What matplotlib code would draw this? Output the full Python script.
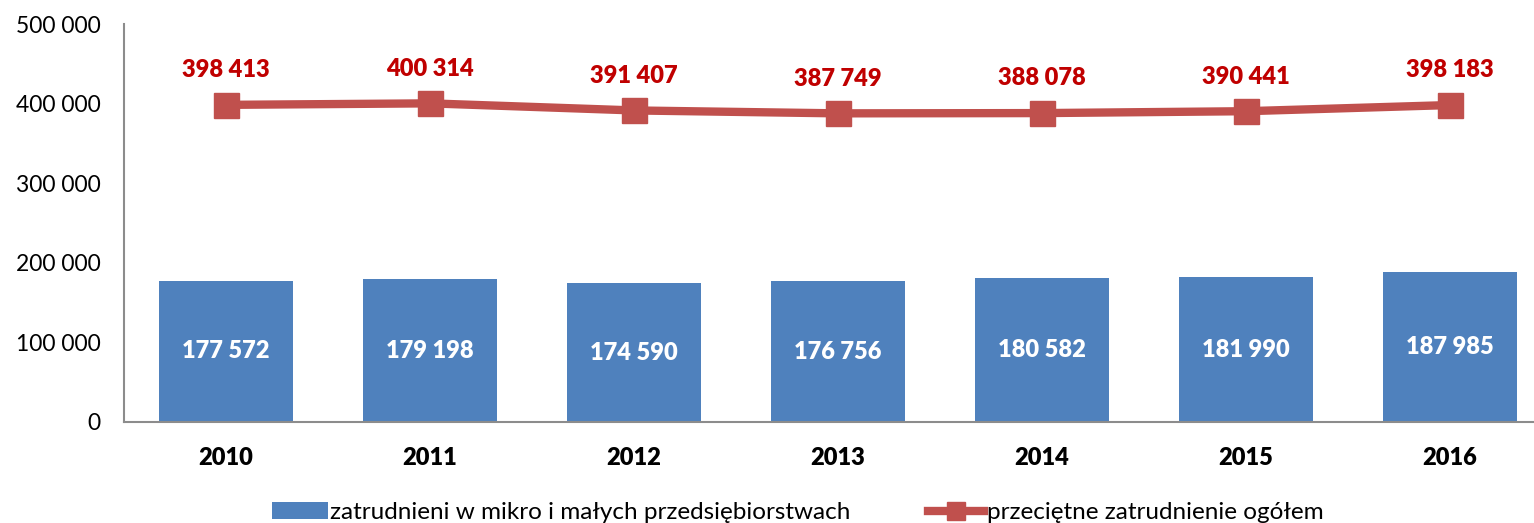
import matplotlib
matplotlib.use("Agg")
import matplotlib.pyplot as plt
from matplotlib.lines import Line2D
from matplotlib.patches import Patch

years = ["2010", "2011", "2012", "2013", "2014", "2015", "2016"]
micro_small = [177572, 179198, 174590, 176756, 180582, 181990, 187985]
total = [398413, 400314, 391407, 387749, 388078, 390441, 398183]

bar_color = "#4F81BD"
line_color = "#C0504D"
label_red = "#C00000"

plt.rcParams['font.family'] = ['Lato', 'DejaVu Sans']


def fmt(v):
    return f"{v:,}".replace(",", " ")


fig = plt.figure(figsize=(15.34, 5.23), dpi=100)
ax = fig.add_axes([124 / 1534, 101 / 523, 1428 / 1534, 398 / 523])

x = list(range(len(years)))
ax.bar(x, micro_small, width=0.66, color=bar_color, zorder=2)
for xi, v in zip(x, micro_small):
    ax.text(xi, v / 2, fmt(v), ha="center", va="center", color="white",
            fontsize=17, fontweight="heavy", zorder=3)

ax.plot(x, total, color=line_color, linewidth=6, marker="s", markersize=18,
        zorder=4)
for xi, v in zip(x, total):
    ax.annotate(fmt(v), (xi, v), xytext=(0, 17), textcoords="offset points",
                ha="center", va="bottom", color=label_red, fontsize=17,
                fontweight="heavy")

ax.set_xlim(-0.5, 6.5)
ax.set_ylim(0, 500000)
ax.set_yticks(range(0, 500001, 100000))
ax.set_yticklabels([fmt(v) for v in range(0, 500001, 100000)], fontsize=16.5)
ax.set_xticks(x)
ax.set_xticklabels(years, fontsize=17, fontweight="heavy")
ax.tick_params(axis="x", length=0, pad=18)
ax.tick_params(axis="y", length=0, pad=17)

for side in ["top", "right"]:
    ax.spines[side].set_visible(False)
ax.spines["left"].set_color("#8c8c8c")
ax.spines["bottom"].set_color("#8c8c8c")
ax.spines["left"].set_linewidth(1.5)
ax.spines["bottom"].set_linewidth(1.5)

handles = [
    Patch(facecolor=bar_color, label="zatrudnieni w mikro i małych przedsiębiorstwach"),
    Line2D([], [], color=line_color, linewidth=6, marker="s", markersize=13,
           label="przeciętne zatrudnienie ogółem"),
]
fig.legend(handles=handles, loc="center", bbox_to_anchor=(0.52, 0.02),
           ncol=2, frameon=False, fontsize=17.5, handlelength=2.3,
           handletextpad=0.1, columnspacing=3.2)

fig.savefig("out.png", dpi=100)
